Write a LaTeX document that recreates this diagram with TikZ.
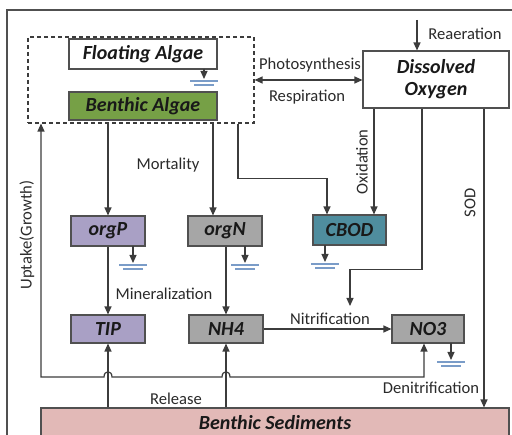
\documentclass[tikz,border=0pt]{standalone}
\usepackage{fontspec}
\setmainfont{Carlito}
\usetikzlibrary{arrows.meta}
\definecolor{ln}{HTML}{3C3C3C}
\definecolor{boxln}{HTML}{505050}
\definecolor{txt}{HTML}{2A2A2A}
\definecolor{baG}{HTML}{76A046}
\definecolor{lav}{HTML}{A9A0C5}
\definecolor{gry}{HTML}{A6A6A6}
\definecolor{tealc}{HTML}{4F8D9E}
\definecolor{sedc}{HTML}{E2B9B7}
\definecolor{gblue}{HTML}{7A9CC8}
\tikzset{
 conn/.style={draw=ln, line width=1.2pt},
 arr/.style={conn, -{Triangle[length=8pt,width=7pt]}},
 darr/.style={conn, {Triangle[length=8pt,width=7pt]}-{Triangle[length=8pt,width=7pt]}},
 box/.style={draw=boxln, line width=1.1pt, font=\fontsize{20}{22}\selectfont\bfseries\itshape, text=black!90, inner sep=0pt},
 lbl/.style={font=\fontsize{16.6}{18}\selectfont, text=txt, inner sep=0pt},
 gnd/.style={draw=gblue, line width=1.3pt},
 frame/.style={draw=boxln, line width=1.4pt},
}
\newcommand\gsym[2]{\draw[arr] #1 -- ++(0,#2) coordinate (gt);
 \draw[gnd] ([shift={(-14pt,-2pt)}]gt) -- ++(28,0) ([shift={(-10pt,-6pt)}]gt) -- ++(20,0);}
\begin{document}
\begin{tikzpicture}[x=1pt,y=-1pt]
\useasboundingbox (0,0) rectangle (512,435);
\draw[frame] (7,440) -- (7,10) -- (515,10);
% nodes
\node[draw=ln, dashed, dash pattern=on 4pt off 3pt, line width=1.1pt, minimum width=226pt, minimum height=86pt, inner sep=0pt] (alg) at (141,80) {};
\node[box, fill=white, minimum width=148pt, minimum height=30pt] (fa) at (143,54) {Floating Algae};
\node[box, fill=baG, minimum width=148pt, minimum height=28pt] (ba) at (143,106) {Benthic Algae};
\node[box, fill=white, minimum width=146pt, minimum height=57pt, align=center] (do) at (436,79.5) {Dissolved\\Oxygen};
\node[box, fill=lav, minimum width=74pt, minimum height=30pt] (orgP) at (108,231) {orgP};
\node[box, fill=gry, minimum width=74pt, minimum height=30pt] (orgN) at (225,231) {orgN};
\node[box, fill=tealc, minimum width=73pt, minimum height=30pt] (cbod) at (349.5,230) {CBOD};
\node[box, fill=lav, minimum width=74pt, minimum height=28pt] (tip) at (108,329) {TIP};
\node[box, fill=gry, minimum width=74pt, minimum height=28pt] (nh4) at (226,329) {NH4};
\node[box, fill=gry, minimum width=72pt, minimum height=28pt] (no3) at (428,329) {NO3};
\node[box, fill=sedc, minimum width=468pt, minimum height=30pt] (bs) at (275,423) {Benthic Sediments};
% helper coordinates
\coordinate (rea) at (417,20);
\coordinate (xA) at (238,0);
\coordinate (xB) at (422,0);
\coordinate (xC) at (484,0);
\coordinate (xD) at (41,0);
\coordinate (xE) at (424,0);
\coordinate (nit) at (350,306);
% connectors
\draw[arr] (rea) -- (rea |- do.north);
\draw[darr] (alg.east) -- (alg.east -| do.west);
\draw[arr] (orgP.north |- alg.south) -- (orgP.north);
\draw[arr] ([xshift=-12pt]orgN.north |- alg.south) -- ([xshift=-12pt]orgN.north);
\draw[arr] (xA |- alg.south) -- ++(0,55) -| ([xshift=-22.5pt]cbod.north);
\draw[arr] ([xshift=24.5pt]cbod.north |- do.south) -- ([xshift=24.5pt]cbod.north);
\draw[arr] (xB |- do.south) -- ++(0,161) -| (nit);
\draw[arr] (xC |- do.south) -- (xC |- bs.north);
\draw[arr] (orgP.south) -- (orgP.south |- tip.north);
\draw[arr] ([xshift=1pt]orgN.south) -- ([xshift=1pt]orgN.south |- nh4.north);
\draw[arr] (nh4.east) -- (nh4.east -| no3.west);
\draw[arr] (tip.south |- bs.north) -- (tip.south);
\draw[arr] (nh4.south |- bs.north) -- (nh4.south);
\draw[darr] (xD |- alg.south) -- (41,377) -- (104,377) .. controls (104,370) and (112,370) .. (112,377) -- (222,377) .. controls (222,370) and (230,370) .. (230,377) -- (424,377) -- (xE |- no3.south);
% ground symbols
\gsym{(204,69)}{10}
\gsym{(133,246)}{17}
\gsym{(245,246)}{17}
\gsym{(325,245)}{17}
\gsym{(451,343)}{17}
% labels
\node[lbl] (lrea) at (465,34) {Reaeration};
\node[lbl] (lpho) at (310,65) {Photosynthesis};
\node[lbl] (lres) at (307,97) {Respiration};
\node[lbl] (lmor) at (168,165) {Mortality};
\node[lbl] (lmin) at (164,294) {Mineralization};
\node[lbl, rotate=90] (lox) at (362,162) {Oxidation};
\node[lbl, rotate=90] (lsod) at (470,203) {SOD};
\node[lbl, rotate=90] (lupt) at (27,235) {Uptake(Growth)};
\node[lbl] (lnit) at (330,319) {Nitrification};
\node[lbl] (lrel) at (176,399) {Release};
\node[lbl] (lden) at (431,388) {Denitrification};
\end{tikzpicture}
\end{document}
